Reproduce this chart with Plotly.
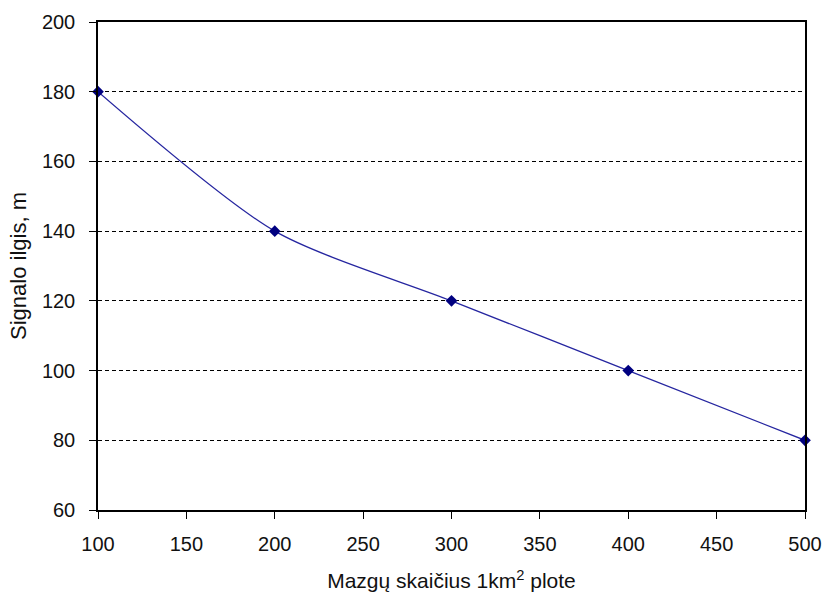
import plotly.graph_objects as go

nodes = [100, 200, 300, 400, 500]
signal_len = [180, 140, 120, 100, 80]
x_ticks = [100, 150, 200, 250, 300, 350, 400, 450, 500]
y_ticks = [60, 80, 100, 120, 140, 160, 180, 200]

fig = go.Figure()
fig.add_trace(go.Scatter(
    x=nodes, y=signal_len, mode="lines+markers",
    line=dict(color="#2626a0", width=1.3, shape="spline", smoothing=0.75),
    marker=dict(symbol="diamond", size=9, color="#000080"),
    cliponaxis=False, showlegend=False,
))

font_family = "Liberation Sans, Arial, sans-serif"
fig.update_layout(
    width=823, height=599,
    margin=dict(l=98, r=18, t=22, b=89),
    paper_bgcolor="white", plot_bgcolor="white",
    font=dict(family=font_family, color="#111111", size=20),
)
fig.update_xaxes(
    range=[100, 500], tickvals=x_ticks, ticks="outside", ticklen=7, tickcolor="black",
    showline=True, linecolor="black", linewidth=1.5, mirror=True,
    showgrid=False, zeroline=False, automargin=False,
    tickfont=dict(size=20), ticklabelstandoff=8,
    title=dict(text="Mazgų skaičius 1km<sup>2</sup> plote", font=dict(size=21), standoff=20),
)
fig.update_yaxes(
    range=[60, 200], tickvals=y_ticks, ticks="outside", ticklen=7, tickcolor="black",
    showline=True, linecolor="black", linewidth=1.5, mirror=True,
    showgrid=True, gridcolor="black", gridwidth=1, griddash="4px,3px",
    zeroline=False, automargin=False,
    tickfont=dict(size=20), ticklabelstandoff=10,
    title=dict(text="Signalo ilgis, m", font=dict(size=22), standoff=9),
)
fig.write_html("out.html")
